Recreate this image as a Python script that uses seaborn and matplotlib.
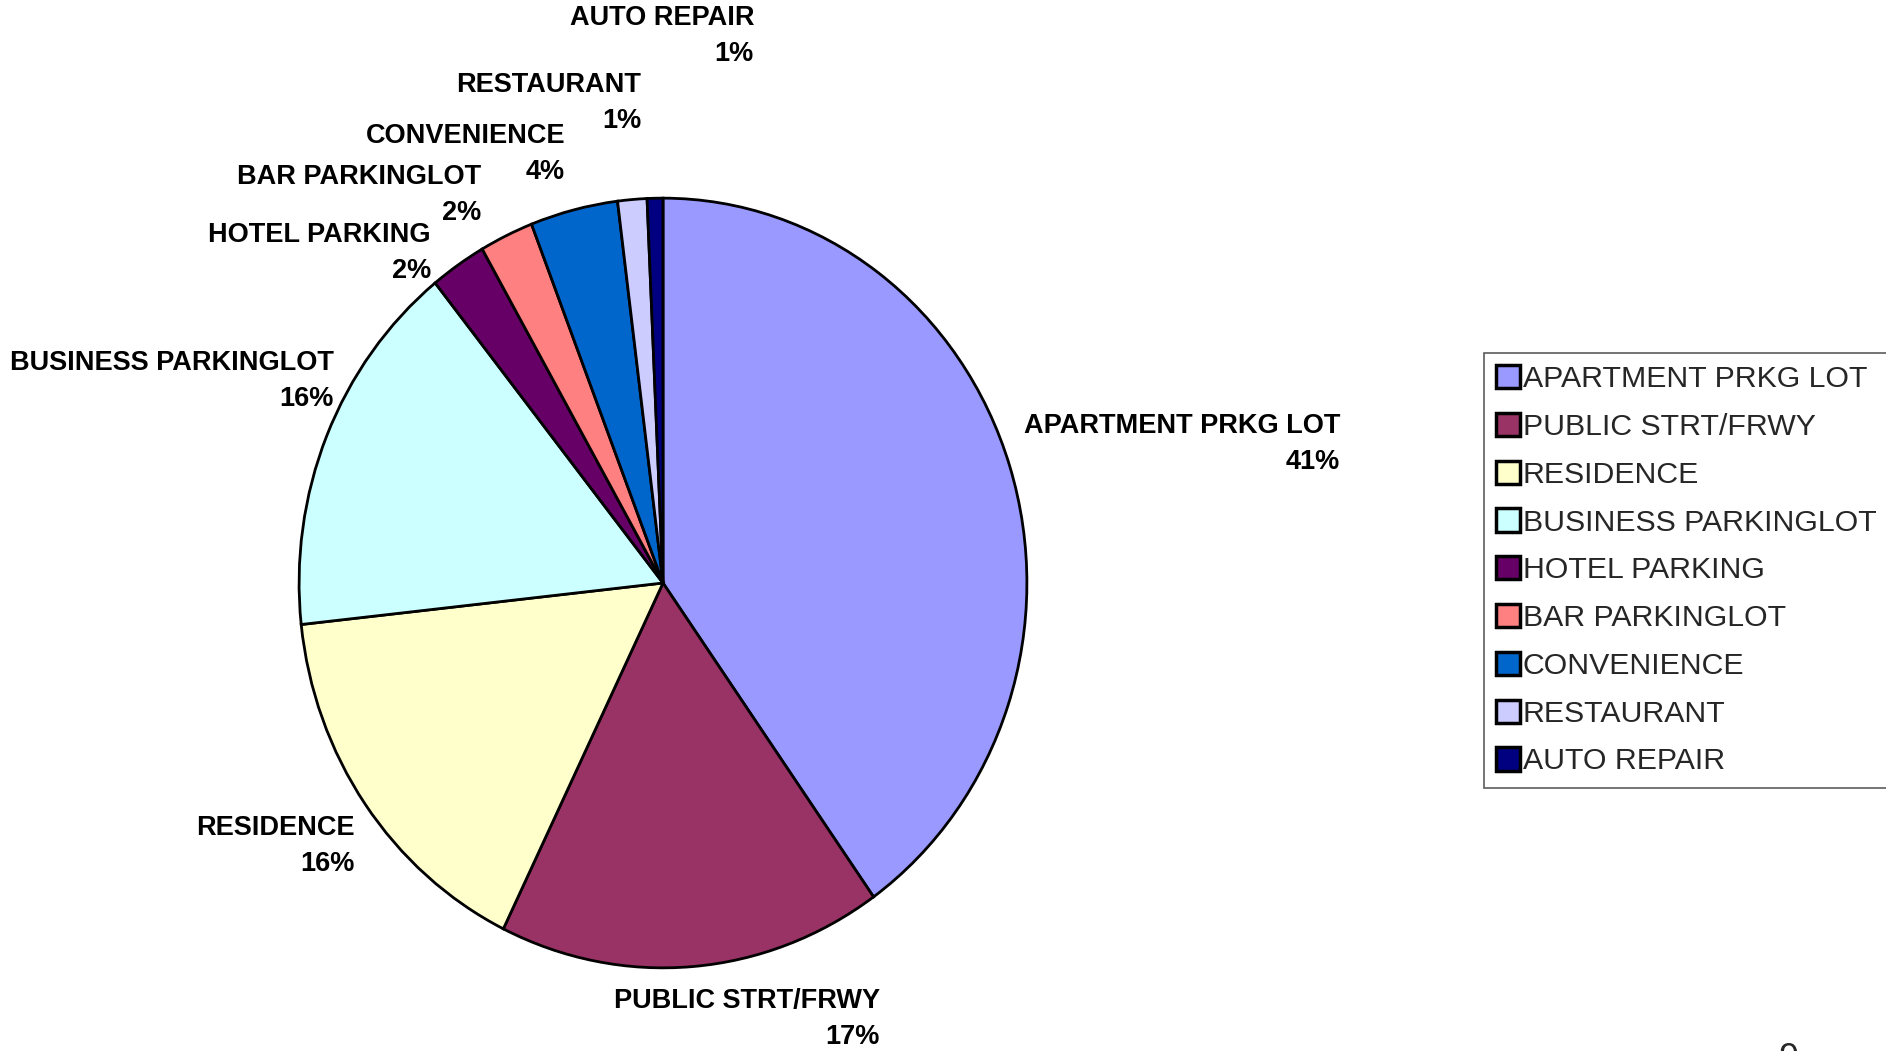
import matplotlib
matplotlib.use("Agg")
import matplotlib.pyplot as plt
import seaborn as sns

# data (shares of incidents, percent)
categories = ["APARTMENT PRKG LOT", "PUBLIC STRT/FRWY", "RESIDENCE",
              "BUSINESS PARKINGLOT", "HOTEL PARKING", "BAR PARKINGLOT",
              "CONVENIENCE", "RESTAURANT", "AUTO REPAIR"]
shares = [40.3, 17.1, 16.1, 16.0, 2.5, 2.4, 3.9, 1.3, 0.7]
pct_labels = ["41%", "17%", "16%", "16%", "2%", "2%", "4%", "1%", "1%"]
colors = ["#9999FF", "#993366", "#FFFFCC", "#CCFFFF", "#660066",
          "#FF8080", "#0066CC", "#CCCCFF", "#000080"]

# label anchors in pixels (right edge, vertical middle of the two-line block)
label_pos = [(1340, 444), (880, 1019), (355, 846), (334, 381), (431, 253),
             (481, 195), (565, 154), (641, 103), (754, 36)]

W, H = 1886, 1051

sns.set_theme(style="white")
plt.rcParams['font.family'] = ['Liberation Sans', 'DejaVu Sans']

fig = plt.figure(figsize=(W / 100, H / 100), dpi=100)
fig.patch.set_facecolor("white")

# pie is slightly taller than wide in the reference
cx, cy, rx, ry = 663, 583, 365, 386
ax = fig.add_axes([(cx - rx) / W, (H - cy - ry) / H, 2 * rx / W, 2 * ry / H])
wedges, _ = ax.pie(shares, colors=colors, startangle=90, counterclock=False,
                   wedgeprops=dict(edgecolor="black", linewidth=2))
ax.set_aspect("auto")
ax.set_xlim(-1.003, 1.003)
ax.set_ylim(-1.003, 1.003)
ax.axis("off")

for name, pct, (x, y) in zip(categories, pct_labels, label_pos):
    fig.text(x / W, 1 - y / H, f"{name}\n{pct}", ha="right", va="center",
             multialignment="right", fontsize=19.5, fontweight="bold",
             linespacing=1.52, color="black")

leg = fig.legend(wedges, categories, loc="upper left",
                 bbox_to_anchor=(1484 / W, 1 - 353 / H), borderaxespad=0,
                 fontsize=21.8, handlelength=0.8, handleheight=0.8,
                 handletextpad=0.08, labelspacing=0.65, borderpad=0.4,
                 fancybox=False, frameon=True)
leg.get_frame().set_edgecolor("#333333")
leg.get_frame().set_linewidth(1.2)
for h in leg.legend_handles:
    h.set_linewidth(2.5)

# page number cut off at the bottom edge
fig.text(1788 / W, 1 - 1042 / H, "9", ha="center", va="top", fontsize=26)

fig.savefig("out.png", dpi=100)
